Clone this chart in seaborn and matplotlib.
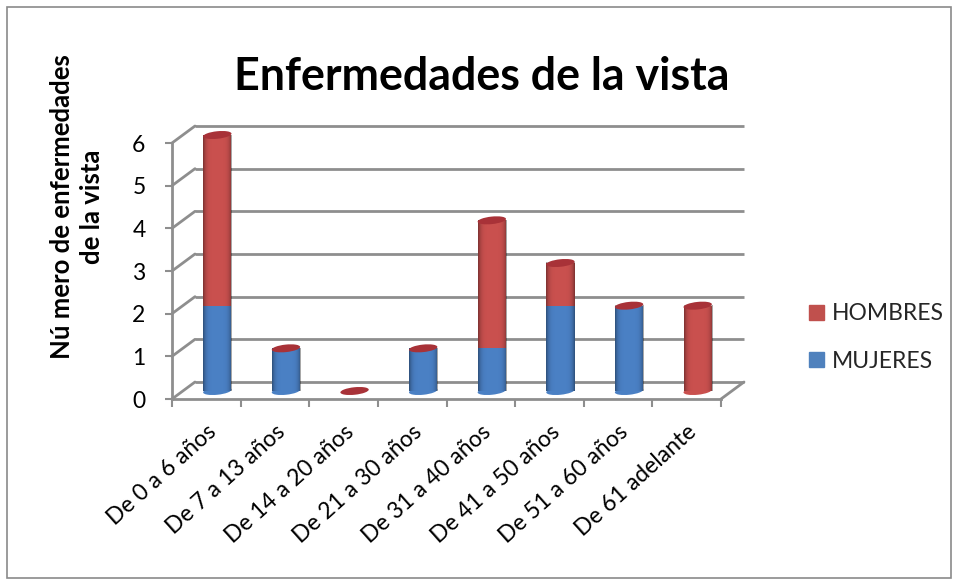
import numpy as np
import pandas as pd
import matplotlib
matplotlib.use("Agg")
import matplotlib.pyplot as plt
import matplotlib.transforms as mtrans
from matplotlib.patches import Ellipse, Rectangle, ConnectionPatch
import seaborn as sns

categories = ["De 0 a 6 años", "De 7 a 13 años", "De 14 a 20 años", "De 21 a 30 años",
              "De 31 a 40 años", "De 41 a 50 años", "De 51 a 60 años", "De 61 adelante"]
mujeres = [2, 1, 0, 1, 1, 2, 2, 0]
hombres = [4, 0, 0, 0, 3, 1, 0, 2]
y_ticks = [0, 1, 2, 3, 4, 5, 6]
title = "Enfermedades de la vista"
ylabel = "Nú mero de enfermedades\nde la vista"

W, H = 958, 583
BLUE, RED, TOPRED, GRID = "#4A80C4", "#C9504E", "#A83238", "#8E8E8E"
LW = 2.0

sns.set_theme(style="white")
plt.rcParams["font.family"] = ["Lato", "DejaVu Sans"]

fig = plt.figure(figsize=(W / 100, H / 100), dpi=100, facecolor="white")

def plane(dx, dy):
    # front plane of the chart box, shifted back by (dx, dy) pixels
    left, right, bottom, top = 172 + dx, 721 + dx, 399 - dy, 143 - dy
    a = fig.add_axes([left / W, 1 - bottom / H, (right - left) / W, (bottom - top) / H])
    a.set_xlim(-0.5, 7.5)
    a.set_ylim(0, 6)
    a.patch.set_alpha(0)
    return a

fig.add_artist(Rectangle((7 / W, 5 / H), 944 / W, 571 / H, transform=fig.transFigure,
                         fill=False, edgecolor="#8A8A8A", linewidth=1.2))

# back wall
back = plane(23, 17)
back.axis("off")
back.hlines(y_ticks, -0.5, 7.5, color=GRID, linewidth=LW, clip_on=False)

# front plane: axis lines, ticks, labels
front = plane(0, 0)
for s in ["top", "right"]:
    front.spines[s].set_visible(False)
for s in ["left", "bottom"]:
    front.spines[s].set_color(GRID)
    front.spines[s].set_linewidth(LW)
front.set_yticks(y_ticks)
front.set_yticklabels([str(v) for v in y_ticks], fontsize=16.5, color="black")
front.tick_params(axis="y", length=5, width=1.5, color=GRID, pad=14, left=True)
front.set_xticks(np.arange(8))
front.set_xticklabels(categories, rotation=42, ha="right", rotation_mode="anchor",
                      fontsize=16.5, color="black")
front.tick_params(axis="x", which="major", length=0, pad=16)
front.set_xticks(np.arange(9) - 0.5, minor=True)
front.tick_params(axis="x", which="minor", length=5.5, width=1.5, color=GRID, bottom=True)

for v in y_ticks:
    fig.add_artist(ConnectionPatch((-0.5, v), (-0.5, v), coordsA=front.transData,
                                   coordsB=back.transData, color=GRID, linewidth=LW))
fig.add_artist(ConnectionPatch((7.5, 0), (7.5, 0), coordsA=front.transData,
                               coordsB=back.transData, color=GRID, linewidth=LW))

# bars, half-way back in the box
mid = plane(11, 8)
df = pd.DataFrame({"cat": categories, "MUJERES": mujeres, "HOMBRES": hombres})
sns.barplot(data=df, x="cat", y="MUJERES", color=BLUE, saturation=1, width=0.41, ax=mid,
            order=categories, errorbar=None, linewidth=0, edgecolor="none")
sns.barplot(data=df, x="cat", y="HOMBRES", color=RED, saturation=1, width=0.41, ax=mid,
            order=categories, errorbar=None, linewidth=0, edgecolor="none",
            bottom=df["MUJERES"].to_numpy())
mid.axis("off")

def disc(x, y, color, z):
    tr = mtrans.ScaledTranslation(x, y, mid.transData)
    mid.add_patch(Ellipse((0, 0), 28.5, 7.5, angle=6, facecolor=color, edgecolor="none",
                          transform=tr, zorder=z, clip_on=False))

shade = np.abs(np.linspace(-1, 1, 64)) ** 5
rgba = np.zeros((1, 64, 4))
rgba[..., 3] = shade * 0.38
half = 0.41 / 2
for i, (m, h) in enumerate(zip(mujeres, hombres)):
    total = m + h
    if total > 0:
        disc(i, 0, BLUE if m > 0 else RED, 1)
        mid.imshow(rgba, extent=(i - half, i + half, 0, total), aspect="auto", zorder=3)
    disc(i, total, TOPRED, 4)
mid.set_xlim(-0.5, 7.5)
mid.set_ylim(0, 6)

# texts
fig.text(482 / W, 1 - 77 / H, title, ha="center", va="center", fontsize=32.2,
         fontweight="bold", color="black")
fig.text(77 / W, 1 - 207 / H, ylabel, ha="center", va="center", rotation=90, fontsize=18.5,
         fontweight="bold", color="black", linespacing=1.3)

# legend
handles = [Rectangle((0, 0), 1, 1, color="#C0504D"), Rectangle((0, 0), 1, 1, color="#4F81BD")]
fig.legend(handles, ["HOMBRES", "MUJERES"], loc="center left",
           bbox_to_anchor=(809 / W, 1 - 337.5 / H), frameon=False, fontsize=16.5,
           handlelength=0.65, handleheight=0.65, handletextpad=0.36, labelspacing=1.15,
           borderpad=0, borderaxespad=0)

fig.savefig("out.png", dpi=100)
